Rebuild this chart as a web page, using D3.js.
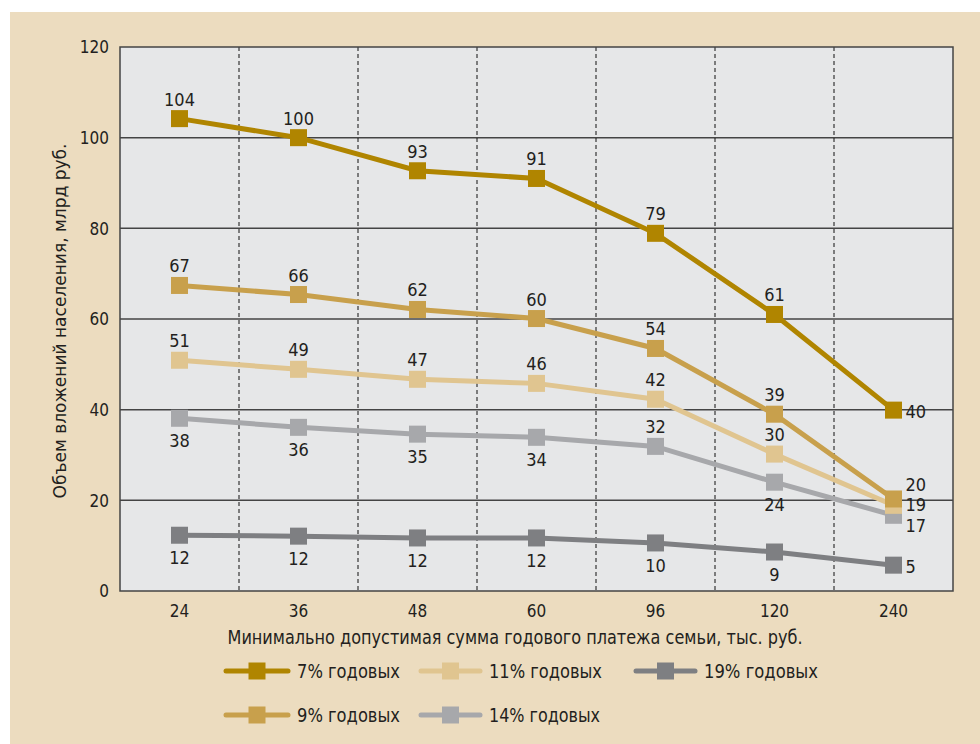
<!DOCTYPE html>
<html>
<head>
<meta charset="utf-8">
<script src="https://cdn.jsdelivr.net/npm/d3@7"></script>
<style>
  body { margin: 0; background: #fff; }
  svg { display: block; }
  text { font-family: "Liberation Sans Narrow", "DejaVu Sans Condensed", "Roboto", sans-serif; fill: #231f20; }
</style>
</head>
<body>
<div id="chart"></div>
<script>
const categories = ['24', '36', '48', '60', '96', '120', '240']
const yTicks = [0, 20, 40, 60, 80, 100, 120]

// значения
const rate7 = [104.2, 100, 92.7, 91, 78.9, 61, 39.9]
const rate9 = [67.4, 65.4, 62.1, 60.1, 53.5, 39, 20.3]
const rate11 = [50.9, 48.9, 46.7, 45.8, 42.3, 30.2, 18.9]
const rate14 = [38.1, 36.1, 34.6, 33.9, 31.9, 24, 16.7]
const rate19 = [12.3, 12.1, 11.7, 11.7, 10.6, 8.6, 5.7]

// подписи точек
const labels7 = [104, 100, 93, 91, 79, 61, 40]
const labels9 = [67, 66, 62, 60, 54, 39, 20]
const labels11 = [51, 49, 47, 46, 42, 30, 19]
const labels14 = [38, 36, 35, 34, 32, 24, 17]
const labels19 = [12, 12, 12, 12, 10, 9, 5]

const seriesNames = ['7% годовых', '9% годовых', '11% годовых', '14% годовых', '19% годовых']

const width = 980
const height = 744
const plot = {left: 120, right: 953, top: 47, bottom: 591}

const svg = d3.select('#chart').append('svg')
    .attr('width', width)
    .attr('height', height)

svg.append('rect')
    .attr('x', 10).attr('y', 12)
    .attr('width', width - 10).attr('height', height - 12)
    .attr('fill', '#ecdcbf')

const xScale = d3.scaleBand()
    .domain(categories)
    .range([plot.left, plot.right])
const yScale = d3.scaleLinear()
    .domain([0, 120])
    .range([plot.bottom, plot.top])

svg.append('rect')
    .attr('x', plot.left).attr('y', plot.top)
    .attr('width', plot.right - plot.left).attr('height', plot.bottom - plot.top)
    .attr('fill', '#e6e7e8')

// горизонтальная сетка
svg.append('g')
    .selectAll('line')
    .data(yTicks.slice(1, -1))
    .join('line')
    .attr('x1', plot.left).attr('x2', plot.right)
    .attr('y1', d => yScale(d)).attr('y2', d => yScale(d))
    .attr('stroke', '#444').attr('stroke-width', 1.5)

// вертикальные пунктиры между категориями
svg.append('g')
    .selectAll('line')
    .data(categories.slice(1))
    .join('line')
    .attr('x1', d => xScale(d)).attr('x2', d => xScale(d))
    .attr('y1', plot.top).attr('y2', plot.bottom)
    .attr('stroke', '#111').attr('stroke-width', 1)
    .attr('stroke-dasharray', '4,3')

svg.append('rect')
    .attr('x', plot.left).attr('y', plot.top)
    .attr('width', plot.right - plot.left).attr('height', plot.bottom - plot.top)
    .attr('fill', 'none')
    .attr('stroke', '#444').attr('stroke-width', 1.5)

// оси
const yAxis = g => g
    .attr('transform', `translate(${plot.left}, 0)`)
    .call(d3.axisLeft(yScale).tickValues(yTicks).tickSize(0).tickPadding(11))
    .call(g => g.select('.domain').remove())
    .call(g => g.selectAll('text').attr('font-size', 17).attr('dy', '0.35em'))

const xAxis = g => g
    .attr('transform', `translate(0, ${plot.bottom})`)
    .call(d3.axisBottom(xScale).tickSize(0).tickPadding(14))
    .call(g => g.select('.domain').remove())
    .call(g => g.selectAll('text').attr('font-size', 17))

svg.append('g').call(yAxis)
svg.append('g').call(xAxis)

svg.selectAll('.tick text').style('font-family', '"Liberation Sans Narrow", "DejaVu Sans Condensed", sans-serif').attr('fill', '#231f20')

svg.append('text')
    .attr('transform', `translate(66, ${(plot.top + plot.bottom) / 2 + 2}) rotate(-90)`)
    .attr('text-anchor', 'middle')
    .attr('font-size', 17)
    .attr('textLength', 355)
    .attr('lengthAdjust', 'spacingAndGlyphs')
    .text('Объем вложений населения, млрд руб.')

svg.append('text')
    .attr('x', 515).attr('y', 644)
    .attr('text-anchor', 'middle')
    .attr('font-size', 20)
    .attr('textLength', 575)
    .attr('lengthAdjust', 'spacingAndGlyphs')
    .text('Минимально допустимая сумма годового платежа семьи, тыс. руб.')

// серии: сначала нижние, чтобы верхние рисовались поверх
const series = [
    {name: seriesNames[4], values: rate19, labels: labels19, color: '#7e7f82', pos: ['b', 'b', 'b', 'b', 'b', 'b', 'r']},
    {name: seriesNames[3], values: rate14, labels: labels14, color: '#a7a8ab', pos: ['b', 'b', 'b', 'b', 't', 'b', 'rb']},
    {name: seriesNames[2], values: rate11, labels: labels11, color: '#e0c590', pos: ['t', 't', 't', 't', 't', 't', 'rm']},
    {name: seriesNames[1], values: rate9, labels: labels9, color: '#c8a04c', pos: ['t', 't', 't', 't', 't', 't', 'rt']},
    {name: seriesNames[0], values: rate7, labels: labels7, color: '#b08500', pos: ['t', 't', 't', 't', 't', 't', 'r']}
]
const byName = {}
series.forEach(s => { byName[s.name] = s })

const cx = c => xScale(c) + xScale.bandwidth() / 2
const line = d3.line()
    .x((d, i) => cx(categories[i]))
    .y(d => yScale(d))

const markerSize = 17

series.forEach(s => {
    svg.append('path')
        .datum(s.values)
        .attr('d', line)
        .attr('fill', 'none')
        .attr('stroke', s.color)
        .attr('stroke-width', 5)

    svg.append('g')
        .selectAll('rect')
        .data(s.values)
        .join('rect')
        .attr('x', (d, i) => cx(categories[i]) - markerSize / 2)
        .attr('y', d => yScale(d) - markerSize / 2)
        .attr('width', markerSize).attr('height', markerSize)
        .attr('fill', s.color)
})

// подписи поверх всего
const labelDy = {t: -13, b: 29, r: 8, rt: -8, rm: 6, rb: 17}
series.forEach(s => {
    svg.append('g')
        .selectAll('text')
        .data(s.values)
        .join('text')
        .attr('font-size', 18)
        .attr('text-anchor', (d, i) => s.pos[i][0] === 'r' ? 'start' : 'middle')
        .attr('x', (d, i) => s.pos[i][0] === 'r' ? cx(categories[i]) + 12 : cx(categories[i]))
        .attr('y', (d, i) => yScale(d) + labelDy[s.pos[i]])
        .text((d, i) => s.labels[i])
})

// легенда
const legendItems = [
    {name: seriesNames[0], x: 226, y: 671, w: 62, tw: 103},
    {name: seriesNames[2], x: 421, y: 671, w: 59, tw: 113},
    {name: seriesNames[4], x: 636, y: 671, w: 59, tw: 114},
    {name: seriesNames[1], x: 226, y: 715, w: 62, tw: 103},
    {name: seriesNames[3], x: 421, y: 715, w: 59, tw: 111}
]

const legend = svg.append('g')
legendItems.forEach(it => {
    const s = byName[it.name]
    const g = legend.append('g').attr('transform', `translate(${it.x}, ${it.y})`)
    g.append('line')
        .attr('x1', 0).attr('x2', it.w)
        .attr('stroke', s.color).attr('stroke-width', 5)
        .attr('stroke-linecap', 'round')
    g.append('rect')
        .attr('x', it.w / 2 - markerSize / 2).attr('y', -markerSize / 2)
        .attr('width', markerSize).attr('height', markerSize)
        .attr('fill', s.color)
    g.append('text')
        .attr('x', it.w + 9).attr('y', 7)
        .attr('font-size', 20)
        .attr('textLength', it.tw)
        .attr('lengthAdjust', 'spacingAndGlyphs')
        .text(s.name)
})
</script>
</body>
</html>
